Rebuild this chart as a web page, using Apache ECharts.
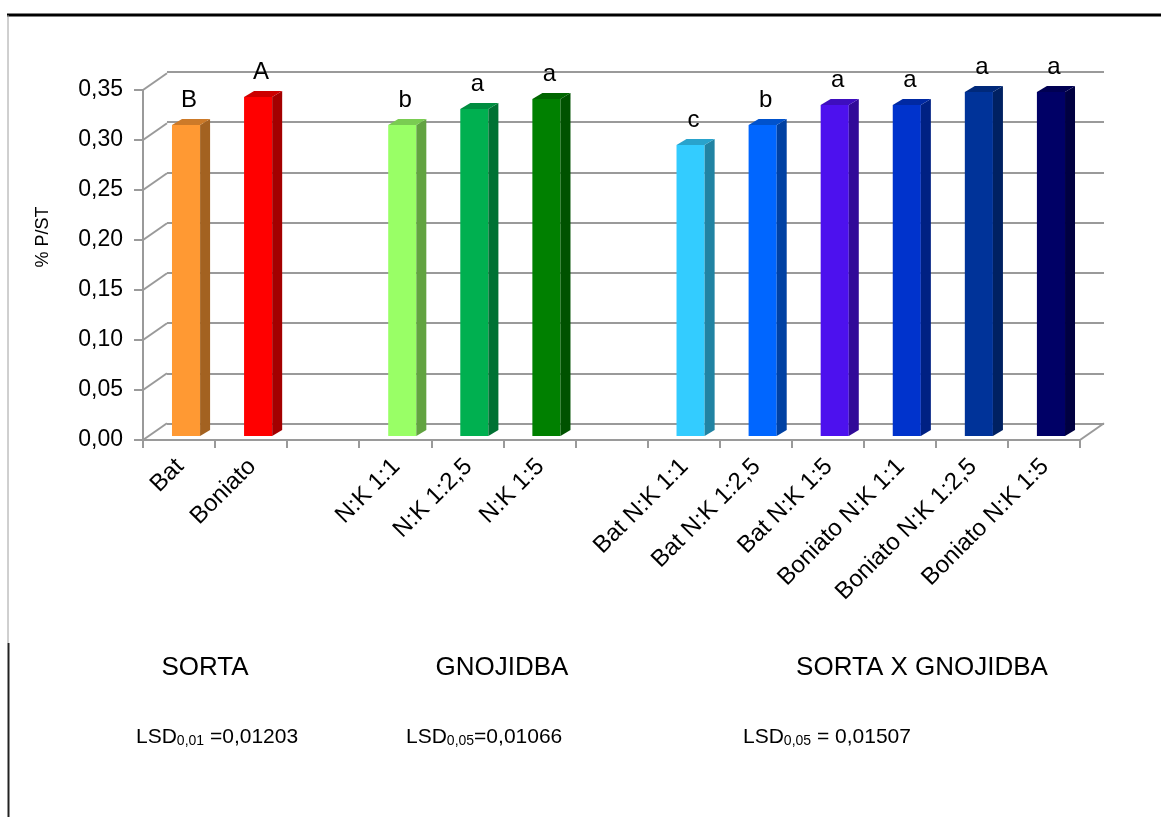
<!DOCTYPE html>
<html>
<head>
<meta charset="utf-8">
<title>% P/ST</title>
<script src="https://cdn.jsdelivr.net/npm/echarts@6/dist/echarts.min.js"></script>
<style>
  html, body { margin: 0; padding: 0; background: #ffffff; }
  #chart { width: 1161px; height: 817px; }
</style>
</head>
<body>
<div id="chart"></div>
<script>
// Treatments (blank entries separate the three groups)
const categories = [
  'Bat', 'Boniato', '',
  'N:K 1:1', 'N:K 1:2,5', 'N:K 1:5', '',
  'Bat N:K 1:1', 'Bat N:K 1:2,5', 'Bat N:K 1:5',
  'Boniato N:K 1:1', 'Boniato N:K 1:2,5', 'Boniato N:K 1:5'
];
// % P in dry matter
const values = [
  0.311, 0.339, null,
  0.311, 0.327, 0.337, null,
  0.291, 0.311, 0.331,
  0.331, 0.344, 0.344
];
// significance letters
const letters = [
  'B', 'A', '',
  'b', 'a', 'a', '',
  'c', 'b', 'a',
  'a', 'a', 'a'
];
const barColors = [
  '#FF9933', '#FF0000', null,
  '#99FF66', '#00B050', '#008000', null,
  '#33CCFF', '#0066FF', '#4D11EE',
  '#0033CC', '#003399', '#000066'
];
const yTicks = [0, 0.05, 0.10, 0.15, 0.20, 0.25, 0.30, 0.35];

const FONT = '"Liberation Sans", Arial, sans-serif';
const GRAY = '#9a9a9a';
// perspective offset between front edge and back wall
const DX = 24, DY = -16.7;
// depth of each column
const BDX = 10, BDY = -6;

function shade(hex, f) {
  const n = parseInt(hex.slice(1), 16);
  const r = Math.round(((n >> 16) & 255) * f);
  const g = Math.round(((n >> 8) & 255) * f);
  const b = Math.round((n & 255) * f);
  return 'rgb(' + r + ',' + g + ',' + b + ')';
}

const chart = echarts.init(document.getElementById('chart'), null, { renderer: 'canvas' });

const hiddenAxis = {
  axisLine: { show: false }, axisTick: { show: false },
  axisLabel: { show: false }, splitLine: { show: false }
};

const option = {
  backgroundColor: '#ffffff',
  animation: false,
  textStyle: { fontFamily: FONT },
  grid: [
    // front plane: axis lines, ticks, value labels
    { left: 143, top: 90, width: 937, height: 350, containLabel: false, outerBoundsMode: 'none' },
    // back wall: gridlines
    { left: 143 + DX, top: 72, width: 937, height: 351.5, containLabel: false, outerBoundsMode: 'none' },
    // column plane
    { left: 149, top: 86, width: 937, height: 350, containLabel: false, outerBoundsMode: 'none' }
  ],
  xAxis: [
    {
      type: 'category', gridIndex: 0, data: categories, boundaryGap: true,
      axisLine: { show: true, lineStyle: { color: GRAY, width: 2 } },
      axisTick: { show: true, length: 8, interval: 0, lineStyle: { color: GRAY, width: 2 } },
      axisLabel: { show: false }, splitLine: { show: false }
    },
    Object.assign({ type: 'category', gridIndex: 1, data: categories }, hiddenAxis),
    {
      type: 'category', gridIndex: 2, data: categories, boundaryGap: true,
      axisLine: { show: false }, axisTick: { show: false }, splitLine: { show: false },
      axisLabel: {
        show: true, interval: 0, rotate: 45, margin: 22, padding: [0, 7, 0, 0],
        fontSize: 24, color: '#000000', fontFamily: FONT
      }
    }
  ],
  yAxis: [
    {
      type: 'value', gridIndex: 0, min: 0, max: 0.35, interval: 0.05,
      axisLine: { show: true, lineStyle: { color: GRAY, width: 2 } },
      axisTick: { show: true, length: 9, lineStyle: { color: GRAY, width: 2 } },
      axisLabel: {
        show: true, margin: 20, fontSize: 23, color: '#000000', fontFamily: FONT,
        formatter: v => v.toFixed(2).replace('.', ',')
      },
      splitLine: { show: false }
    },
    {
      type: 'value', gridIndex: 1, min: 0, max: 0.35, interval: 0.05,
      axisLine: { show: false }, axisTick: { show: false }, axisLabel: { show: false },
      splitLine: { show: true, lineStyle: { color: GRAY, width: 2 } }
    },
    Object.assign({ type: 'value', gridIndex: 2, min: 0, max: 0.35, interval: 0.05 }, hiddenAxis)
  ],
  series: [
    // side wall: slanted lines joining each front tick to the back wall
    {
      type: 'custom', xAxisIndex: 0, yAxisIndex: 0, silent: true, z: 1,
      data: yTicks.map(v => [0, v]),
      renderItem: (params, api) => {
        const x0 = params.coordSys.x;
        const y = api.coord([0, api.value(1)])[1];
        return {
          type: 'line',
          shape: { x1: x0, y1: y, x2: x0 + DX, y2: y + DY },
          style: { stroke: GRAY, lineWidth: 2 }
        };
      }
    },
    // right edge of the floor
    {
      type: 'custom', xAxisIndex: 0, yAxisIndex: 0, silent: true, z: 1,
      data: [[categories.length - 1, 0]],
      renderItem: (params, api) => {
        const cs = params.coordSys;
        const x1 = cs.x + cs.width;
        const y = api.coord([0, 0])[1];
        return {
          type: 'line',
          shape: { x1: x1, y1: y, x2: x1 + DX, y2: y + DY },
          style: { stroke: GRAY, lineWidth: 2 }
        };
      }
    },
    // 3D columns with their letters
    {
      type: 'custom', xAxisIndex: 2, yAxisIndex: 2, z: 5,
      data: values.map((v, i) => [i, v]),
      renderItem: (params, api) => {
        const i = api.value(0);
        const v = values[i];
        if (v == null) return null;
        const c = barColors[i];
        const base = api.coord([i, 0]);
        const top = api.coord([i, v]);
        const w = api.size([1, 0])[0] * 0.39;
        const xl = base[0] - w / 2 + 1;
        const xr = xl + w;
        const y0 = base[1], y1 = top[1];
        return {
          type: 'group',
          children: [
            {
              type: 'rect',
              shape: { x: xl, y: y1, width: w, height: y0 - y1 },
              style: { fill: c }
            },
            {
              type: 'polygon',
              shape: { points: [[xr, y1], [xr + BDX, y1 + BDY], [xr + BDX, y0 + BDY], [xr, y0]] },
              style: { fill: shade(c, 0.64) }
            },
            {
              type: 'polygon',
              shape: { points: [[xl, y1], [xl + BDX, y1 + BDY], [xr + BDX, y1 + BDY], [xr, y1]] },
              style: { fill: shade(c, 0.8) }
            },
            {
              type: 'text',
              style: {
                x: (xl + xr) / 2 + 3, y: y1 + BDY - 7,
                text: letters[i], fill: '#000000',
                font: '24px ' + FONT, textAlign: 'center', textVerticalAlign: 'bottom'
              }
            }
          ]
        };
      }
    }
  ],
  graphic: [
    // frame
    { type: 'line', shape: { x1: 7, y1: 15, x2: 1161, y2: 15 }, style: { stroke: '#000000', lineWidth: 3 } },
    { type: 'line', shape: { x1: 8, y1: 15, x2: 8, y2: 643 }, style: { stroke: '#a0a0a0', lineWidth: 1 } },
    { type: 'line', shape: { x1: 8.5, y1: 643, x2: 8.5, y2: 817 }, style: { stroke: '#222222', lineWidth: 2 } },
    // value axis title
    {
      type: 'text', x: 43, y: 237, rotation: Math.PI / 2,
      style: { text: '% P/ST', font: '18px ' + FONT, fill: '#000', textAlign: 'center', textVerticalAlign: 'middle' }
    },
    // group titles
    { type: 'text', x: 205, y: 668, style: { text: 'SORTA', font: '26px ' + FONT, fill: '#000', textAlign: 'center', textVerticalAlign: 'middle' } },
    { type: 'text', x: 502, y: 668, style: { text: 'GNOJIDBA', font: '26px ' + FONT, fill: '#000', textAlign: 'center', textVerticalAlign: 'middle' } },
    { type: 'text', x: 922, y: 668, style: { text: 'SORTA X GNOJIDBA', font: '26px ' + FONT, fill: '#000', textAlign: 'center', textVerticalAlign: 'middle' } },
    // least significant differences
    {
      type: 'text', x: 136, y: 722,
      style: {
        text: '{m|LSD}{s|0,01}{m| =0,01203}', fill: '#000',
        rich: {
          m: { fontSize: 21, fontFamily: FONT, lineHeight: 26, verticalAlign: 'bottom' },
          s: { fontSize: 14, fontFamily: FONT, lineHeight: 10, verticalAlign: 'bottom' }
        }
      }
    },
    {
      type: 'text', x: 406, y: 722,
      style: {
        text: '{m|LSD}{s|0,05}{m|=0,01066}', fill: '#000',
        rich: {
          m: { fontSize: 21, fontFamily: FONT, lineHeight: 26, verticalAlign: 'bottom' },
          s: { fontSize: 14, fontFamily: FONT, lineHeight: 10, verticalAlign: 'bottom' }
        }
      }
    },
    {
      type: 'text', x: 743, y: 722,
      style: {
        text: '{m|LSD}{s|0,05}{m| = 0,01507}', fill: '#000',
        rich: {
          m: { fontSize: 21, fontFamily: FONT, lineHeight: 26, verticalAlign: 'bottom' },
          s: { fontSize: 14, fontFamily: FONT, lineHeight: 10, verticalAlign: 'bottom' }
        }
      }
    }
  ]
};

chart.setOption(option);
</script>
</body>
</html>
